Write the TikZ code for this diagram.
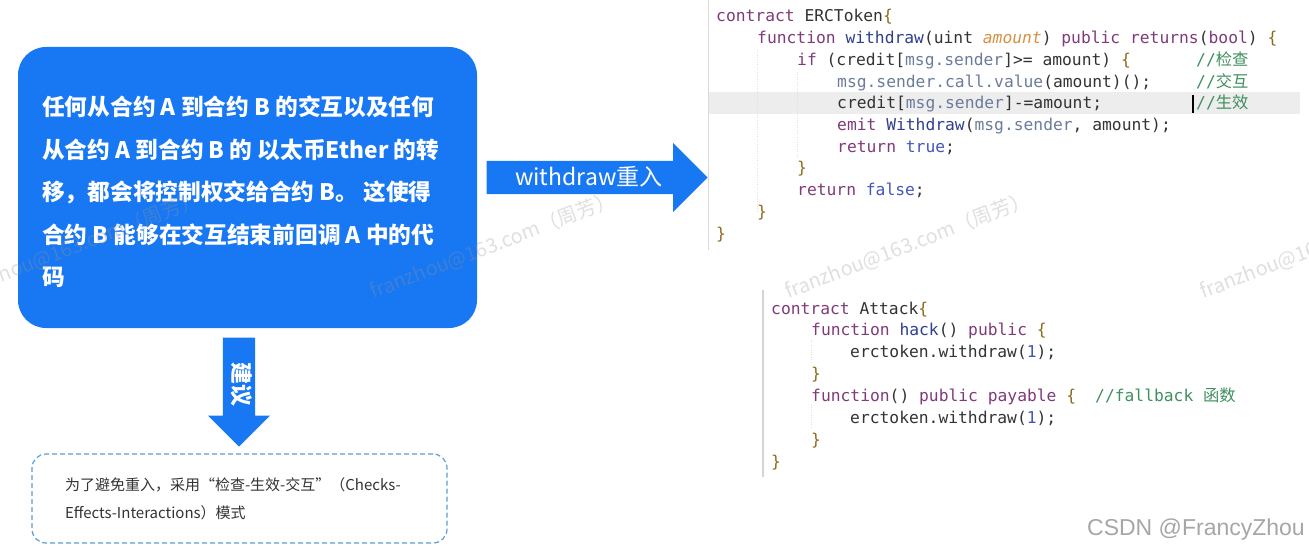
\documentclass[tikz,border=0pt]{standalone}
\usepackage{fontspec}
\usepackage{tikz}
\usetikzlibrary{shapes.arrows,positioning}
\newfontfamily\cjk{Noto Sans CJK SC}
\newfontfamily\codefont{DejaVu Sans Mono}
\newfontfamily\markfont{Liberation Sans}
\definecolor{boxblue}{HTML}{1877F2}
\definecolor{dashblue}{HTML}{5B9BD8}
\definecolor{kwcol}{HTML}{7F3A7A}
\definecolor{fncol}{HTML}{2E3F8C}
\definecolor{vrcol}{HTML}{6B7B9B}
\definecolor{pacol}{HTML}{D4913F}
\definecolor{licol}{HTML}{4455B5}
\definecolor{brcol}{HTML}{8B6A1E}
\definecolor{cmcol}{HTML}{3F8F5F}
\definecolor{plcol}{HTML}{333333}
\newcommand{\ckw}[1]{\textcolor{kwcol}{#1}}
\newcommand{\cfn}[1]{\textcolor{fncol}{#1}}
\newcommand{\cvr}[1]{\textcolor{vrcol}{#1}}
\newcommand{\cpa}[1]{\textcolor{pacol}{\itshape #1}}
\newcommand{\cli}[1]{\textcolor{licol}{#1}}
\newcommand{\cbr}[1]{\textcolor{brcol}{#1}}

\begin{document}
\begin{tikzpicture}[x=1pt,y=-1pt,
  descbox/.style={fill=boxblue,rounded corners=28pt,minimum width=459,minimum height=281,inner sep=0},
  desctext/.style={text=white,font=\cjk\bfseries\fontsize{22.7}{42.5}\selectfont,align=left,inner sep=0},
  blockarrow/.style={single arrow,fill=boxblue,single arrow tip angle=90,text=white,
    text height=18pt,text depth=3pt,inner xsep=4pt,font=\cjk\fontsize{23}{26}\selectfont},
  advicebox/.style={draw=dashblue,dash pattern=on 5pt off 3pt,line width=1.2pt,rounded corners=14pt,
    minimum width=415,minimum height=89,text width=349,inner xsep=33,align=left,
    text=black!80,font=\cjk\fontsize{15}{28}\selectfont},
  code/.style={anchor=base west,inner sep=0,text=plcol,font=\codefont\fontsize{16.3}{20}\selectfont},
  comment/.style={code,text=cmcol},
  wmark/.style={anchor=base west,inner sep=0,rotate=21,text=black!41,text opacity=0.3,
    font=\cjk\fontsize{20}{22}\selectfont}]
  \useasboundingbox (0,0) rectangle (1309,551);

  % Description box on the left.
  \node[descbox] (desc) at (247.5,187.5) {};
  \node[desctext,anchor=north west] (desctxt) at (42,96)
    {任何从合约 A 到合约 B 的交互以及任何\\从合约 A 到合约 B 的 以太币Ether 的转\\移，都会将控制权交给合约 B。 这使得\\合约 B 能够在交互结束前回调 A 中的代\\码};

  % Block arrows.
  \node[blockarrow,anchor=tip,minimum height=221,minimum width=69,
    single arrow head extend=18pt,inner ysep=6pt] (reenter) at (708,177.5) {withdraw重入};
  \node[blockarrow,rotate=-90,anchor=tip,minimum height=109,minimum width=62,
    single arrow head extend=15pt,inner ysep=5.5pt,text height=16pt,text depth=5pt,
    font=\cjk\bfseries\fontsize{22}{24}\selectfont]
    (advice) at (239,447) {建议};

  % Advice box.
  \node[advicebox] (rule) at (239.5,498.5)
    {为了避免重入，采用“检查-生效-交互”（Checks-\\Effects-Interactions）模式};

  % Editor decorations: current line, cursor, margins, indent guides.
  \fill[black!7] (709,92) rectangle (1300,114);
  \draw[black,line width=1.4pt] (1193,95) -- (1193,113);
  \draw[black!15,line width=1.2pt] (708.5,0) -- (708.5,250);
  \draw[black!17,line width=2.2pt] (763,290) -- (763,477);
  \draw[black!12,dotted] (757,50) -- (757,212);
  \draw[black!12,dotted] (797,72) -- (797,157);
  \draw[black!12,dotted] (811,340) -- (811,363);
  \draw[black!12,dotted] (811,405) -- (811,428);

  % Contract ERCToken.
  \node[code] (erc1) at (716,22) {\ckw{contract} ERCToken\cbr{\{}};
  \node[code] (erc2) at (757,43.7) {\ckw{function} \cfn{withdraw}(uint \cpa{amount}) \ckw{public} \ckw{returns}(\ckw{bool}) \cbr{\{}};
  \node[code] (erc3) at (797,65.4) {\ckw{if} (credit[\cvr{msg.sender}]>= amount) \cbr{\{}};
  \node[code] (erc4) at (837,87.1) {\cvr{msg.sender.call.value}(amount)();};
  \node[code] (erc5) at (837,108.8) {credit[\cvr{msg.sender}]-=amount;};
  \node[code] (erc6) at (837,130.5) {\ckw{emit} \cfn{Withdraw}(\cvr{msg.sender}, amount);};
  \node[code] (erc7) at (837,152.2) {\ckw{return} \cli{true};};
  \node[code] (erc8) at (797,173.9) {\cbr{\}}};
  \node[code] (erc9) at (797,195.6) {\ckw{return} \cli{false};};
  \node[code] (erc10) at (757,217.3) {\cbr{\}}};
  \node[code] (erc11) at (716,239) {\cbr{\}}};
  \node[comment] (note3) at (1196,65.4) {//{\cjk 检查}};
  \node[comment] (note4) at (1196,87.1) {//{\cjk 交互}};
  \node[comment] (note5) at (1196,108.8) {//{\cjk 生效}};

  % Contract Attack.
  \node[code] (atk1) at (771,314) {\ckw{contract} Attack\cbr{\{}};
  \node[code] (atk2) at (811,335.9) {\ckw{function} \cfn{hack}() \ckw{public} \cbr{\{}};
  \node[code] (atk3) at (850,357.8) {erctoken.withdraw(\cli{1});};
  \node[code] (atk4) at (811,379.7) {\cbr{\}}};
  \node[code] (atk5) at (811,401.6) {\ckw{function}() \ckw{public} \ckw{payable} \cbr{\{}};
  \node[code] (atk6) at (850,423.5) {erctoken.withdraw(\cli{1});};
  \node[code] (atk7) at (811,445.4) {\cbr{\}}};
  \node[code] (atk8) at (771,467.3) {\cbr{\}}};
  \node[comment] (note6) at (1095,401.6) {//fallback {\cjk 函数}};

  % Watermarks.
  \foreach \wx [count=\i] in {-42,373,788,1203}
    \node[wmark] (wm\i) at (\wx,299) {franzhou@163.com（周芳）};
  \node[anchor=base east,inner sep=0,text=black!35,font=\markfont\fontsize{23}{25}\selectfont]
    (csdn) at (1305,535) {CSDN @FrancyZhou};
\end{tikzpicture}
\end{document}
